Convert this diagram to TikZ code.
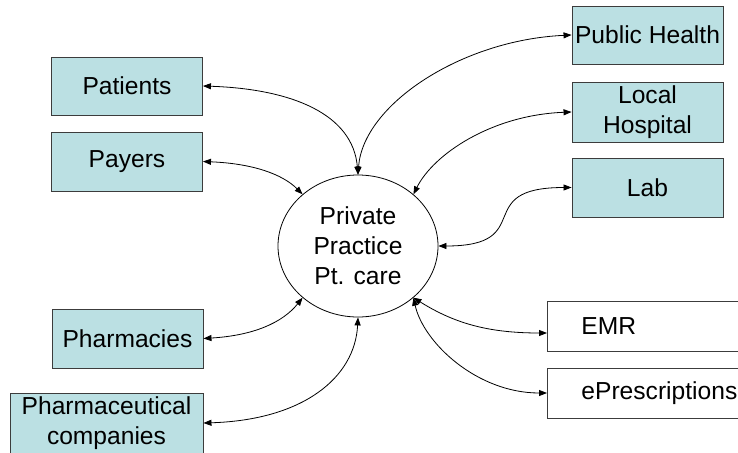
\documentclass[tikz,border=0pt]{standalone}
\usepackage{fontspec}
\setmainfont{Liberation Sans}
\usetikzlibrary{shapes.geometric,arrows.meta}
\definecolor{boxfill}{RGB}{187,224,227}
\definecolor{boxline}{RGB}{60,60,60}
\begin{document}
\begin{tikzpicture}[x=1pt,y=-1pt,
  every node/.style={font=\fontsize{24.6}{30}\selectfont},
  cbox/.style={draw=boxline, line width=0.9pt, fill=boxfill, inner sep=0pt, align=center, minimum width=151pt},
  wbox/.style={draw=boxline, line width=0.9pt, fill=white, anchor=west, inner ysep=0pt, inner xsep=34pt, text width=180pt, align=left, minimum height=50pt},
  arr/.style={line width=0.8pt, {Triangle[length=8pt,width=6pt]}-{Triangle[length=8pt,width=6pt]}}]
\useasboundingbox (0,0) rectangle (738,452);
% nodes
\node[ellipse, draw, line width=0.8pt, minimum width=160pt, minimum height=142pt, inner sep=0pt, align=center] (pp) at (358,246) {Private\\Practice\\Pt. care};
\node[cbox, minimum height=58pt] (pat) at (127,86) {Patients};
\node[cbox, minimum height=59pt] (pay) at (127,161.5) {Payers};
\node[cbox, minimum height=59pt] (phm) at (127.5,338.5) {Pharmacies};
\node[cbox, minimum width=193pt, minimum height=60pt] (phc) at (106.5,423) {Pharmaceutical\\companies};
\node[cbox, minimum height=58pt] (ph) at (647.5,35) {Public Health};
\node[cbox, minimum height=60pt] (lh) at (647.5,112) {Local\\Hospital};
\node[cbox, minimum height=59pt] (lab) at (647.5,187.5) {Lab};
\node[wbox] (emr) at (547,326) {EMR};
\node[wbox] (ep) at (547,393) {ePrescriptions};
% connectors
\draw[arr] (pat.east) .. controls +(90,3) and +(-5,-60) .. (pp.north);
\draw[arr] (ph.west) .. controls +(-110,5) and +(5,-70) .. (pp.north);
\draw[arr] (lh.west) .. controls +(-80,3) and +(20,-40) .. (pp.43);
\draw[arr] (lab.west) .. controls +(-102,0) and +(100,0) .. (pp.east);
\draw[arr] (pay.east) .. controls +(50,2) and +(-20,-20) .. (pp.137);
\draw[arr] (phm.east) .. controls +(50,-3) and +(-20,25) .. (pp.223);
\draw[arr] (phc.east) .. controls +(100,-3) and +(-3,60) .. (pp.south);
\draw[arr] ([yshift=-7pt]emr.west) .. controls +(-60,0) and +(40,25) .. (pp.-43);
\draw[arr] (ep.west) .. controls +(-70,0) and +(10,45) .. (pp.-43);
\end{tikzpicture}
\end{document}
